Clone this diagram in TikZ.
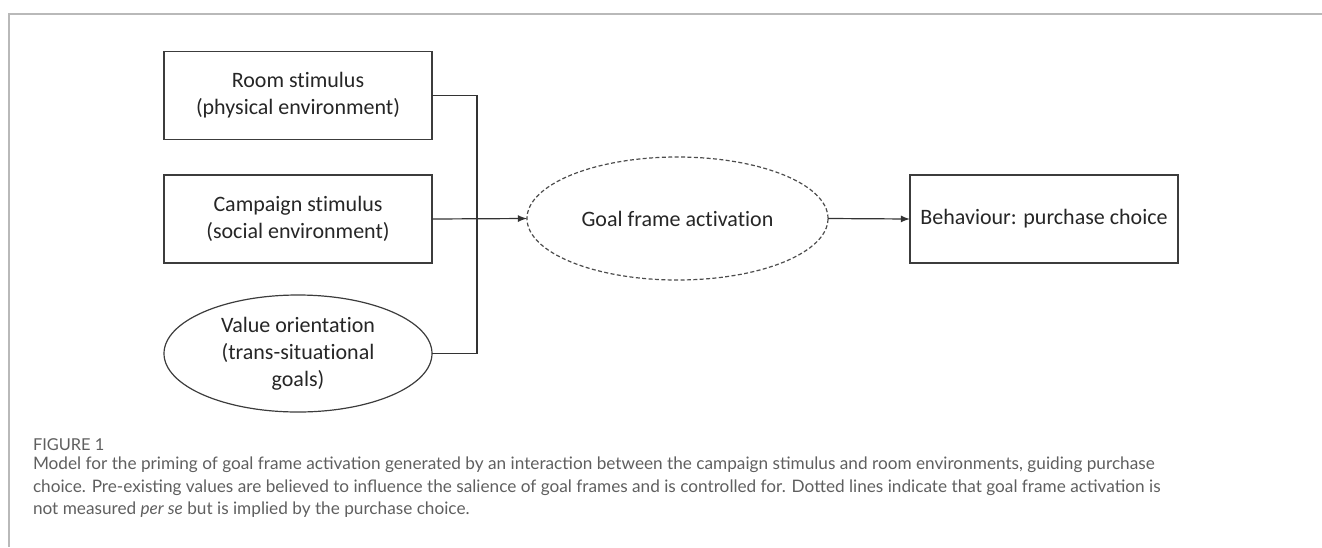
\documentclass[tikz,border=0pt]{standalone}
\usepackage{fontspec}
\setmainfont{Carlito}[RawFeature={-liga;-clig;-calt;-rlig;-dlig}]
\newfontfamily\capfont{Lato}
\usetikzlibrary{shapes.geometric}
\definecolor{framegray}{RGB}{185,185,185}
\definecolor{capgray}{RGB}{95,95,95}
\definecolor{boxline}{RGB}{60,60,60}

\begin{document}
\begin{tikzpicture}[x=0.5pt, y=-0.5pt]
\tikzset{ >=latex, inner sep=0pt, outer sep=0pt,
  box/.style={draw=boxline, line width=0.7pt, minimum width=134pt, minimum height=44pt,
    align=center, font=\fontsize{11}{13.5}\selectfont, text=black!85},
  oval/.style={ellipse, draw=boxline, line width=0.6pt, align=center,
    font=\fontsize{11}{13.5}\selectfont, text=black!85},
  link/.style={draw=black!80, line width=0.6pt},
}
\useasboundingbox (0,0) rectangle (1322,547);
%\draw [lightgray, dashed](0,0) grid [step=100] (1322,547);

% frame of the figure
\draw [framegray, line width=0.7pt] (1322,14) -- (9,14) -- (9,547);

\node [box] (R) at (298,95.5) {Room stimulus\\(physical environment)};
\node [box] (C) at (298,219) {Campaign stimulus\\(social environment)};
\node [oval, minimum width=134pt, minimum height=58.5pt] (V) at (298,353.5)
      {Value orientation\\(trans-situational\\goals)};
\node [oval, dashed, dash pattern=on 2pt off 1.2pt, draw=black!70,
       minimum width=150.5pt, minimum height=61.5pt] (G) at (677.5,218.5) {Goal frame activation};
\node [box] (B) at (1044,219) {Behaviour: purchase choice};

\coordinate (bus) at (477,219);

\draw [link] (R.east) -| (bus);
\draw [link] (V.east) -| (bus);
\draw [link, ->] (C.east) -- (G.west);
\draw [link, ->] (G.east) -- (B.west);

% caption
\node [anchor=west, text=capgray, font=\capfont\fontsize{8.2}{9}\selectfont] (FIG) at (33,445) {FIGURE 1};
\node [anchor=north west, align=left, text=capgray, font=\capfont\fontsize{8.6}{11.25}\selectfont] (CAP) at (33,457)
  {Model for the priming of goal frame activation generated by an interaction between the campaign stimulus and room environments, guiding purchase\\
   choice. Pre-existing values are believed to influence the salience of goal frames and is controlled for. Dotted lines indicate that goal frame activation is\\
   not measured \textit{per se} but is implied by the purchase choice.};

\end{tikzpicture}
\end{document}
